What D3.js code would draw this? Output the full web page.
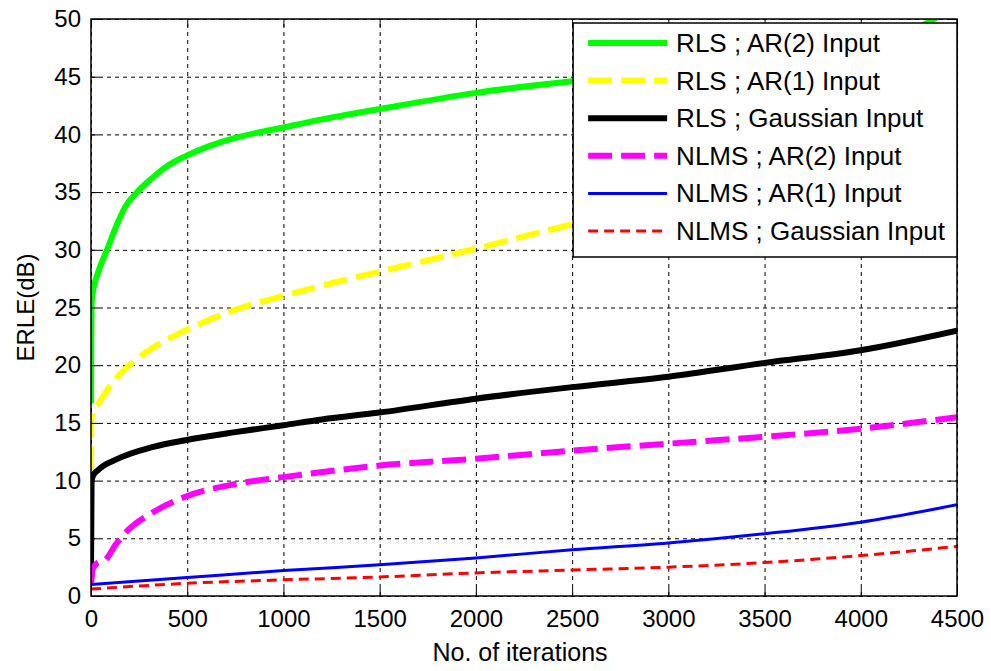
<!DOCTYPE html>
<html>
<head>
<meta charset="utf-8">
<script src="https://cdn.jsdelivr.net/npm/d3@7"></script>
<style>
  body { margin: 0; background: #fff; }
  svg { font-family: "Liberation Sans", Arial, sans-serif; }
  .grid line { stroke: #000; stroke-dasharray: 4,4; stroke-width: 1; }
  .grid path { display: none; }
  .axis path, .axis line { stroke: #000; }
  .axis text { font-size: 24px; fill: #000; }
</style>
</head>
<body>
<svg id="chart" width="991" height="671"></svg>
<script>
// series values (iterations, ERLE dB)
const rlsAr2 = [[0,16.7],[1,21],[4,25.6],[15,26.8],[36,28],[88,30.2],[130,32],[177,33.7],[240,35],[317,36.2],[400,37.3],[490,38.1],[600,38.9],[750,39.7],[1000,40.6],[1200,41.3],[1500,42.2],[2000,43.6],[2500,44.6],[3000,45.4],[3500,46.3],[4000,47.6],[4250,48.8],[4400,50.2],[4500,51.2]];
const rlsAr1 = [[0,10.9],[2,15.2],[12,16],[36,16.6],[109,18.4],[229,20.4],[350,21.8],[490,23],[750,24.8],[1000,26],[1200,26.9],[1500,28.1],[2000,30.1],[2500,32.2],[3000,34],[3500,35.8],[4000,37.6],[4500,39.5]];
const rlsGauss = [[0,2],[3,10],[10,10.4],[36,10.9],[140,11.9],[317,12.9],[490,13.5],[750,14.2],[1000,14.8],[1200,15.3],[1500,15.9],[2000,17.1],[2500,18.1],[3000,19],[3500,20.2],[4000,21.3],[4500,23]];
const nlmsAr2 = [[0,1.0],[10,2.4],[30,2.8],[73,3.1],[130,4.5],[192,5.7],[317,7.2],[490,8.6],[750,9.7],[1000,10.3],[1500,11.3],[2000,11.9],[2500,12.6],[3000,13.2],[3500,13.8],[4000,14.5],[4500,15.5]];
const nlmsAr1 = [[0,1.0],[500,1.6],[1000,2.2],[1500,2.7],[2000,3.3],[2500,4.0],[3000,4.6],[3500,5.4],[4000,6.4],[4500,7.9]];
const nlmsGauss = [[0,0.6],[500,1.1],[1000,1.4],[1500,1.65],[2000,2.0],[2500,2.25],[3000,2.5],[3500,2.9],[4000,3.5],[4500,4.3]];

const xTicks = [0,500,1000,1500,2000,2500,3000,3500,4000,4500];
const yTicks = [0,5,10,15,20,25,30,35,40,45,50];

const series = [
  { name: "RLS ; AR(2) Input", data: rlsAr2, color: "#00ff00", width: 6, dash: null },
  { name: "RLS ; AR(1) Input", data: rlsAr1, color: "#ffff00", width: 6, dash: "24,9" },
  { name: "RLS ; Gaussian Input", data: rlsGauss, color: "#000000", width: 6, dash: null },
  { name: "NLMS ; AR(2) Input", data: nlmsAr2, color: "#ff00ff", width: 6, dash: "24,9" },
  { name: "NLMS ; AR(1) Input", data: nlmsAr1, color: "#0000ff", width: 3, dash: null },
  { name: "NLMS ; Gaussian Input", data: nlmsGauss, color: "#ff0000", width: 3, dash: "10,6" }
];

const margin = { top: 19, right: 34, bottom: 75, left: 91 };
const width = 991 - margin.left - margin.right;
const height = 671 - margin.top - margin.bottom;

const svg = d3.select("#chart");
const g = svg.append("g").attr("transform", `translate(${margin.left},${margin.top})`);

const x = d3.scaleLinear().domain([0, 4500]).range([0, width]);
const y = d3.scaleLinear().domain([0, 50]).range([height, 0]);

// grid
g.append("g").attr("class", "grid")
  .attr("transform", `translate(0,${height})`)
  .call(d3.axisBottom(x).tickValues(xTicks).tickSize(-height).tickFormat(""));
g.append("g").attr("class", "grid")
  .call(d3.axisLeft(y).tickValues(yTicks).tickSize(-width).tickFormat(""));

// clip so the lines stay inside the box
g.append("clipPath").attr("id", "clip")
  .append("rect").attr("width", width).attr("height", height);

const line = d3.line()
  .x(d => x(d[0]))
  .y(d => y(d[1]))
  .curve(d3.curveMonotoneX);

const lines = g.append("g").attr("clip-path", "url(#clip)");
series.forEach(s => {
  lines.append("path")
    .datum(s.data)
    .attr("fill", "none")
    .attr("stroke", s.color)
    .attr("stroke-width", s.width)
    .attr("stroke-dasharray", s.dash)
    .attr("d", line);
});

// axes (ticks point inward, on all four sides)
g.append("g").attr("class", "axis")
  .attr("transform", `translate(0,${height})`)
  .call(d3.axisBottom(x).tickValues(xTicks).tickSize(-8).tickPadding(14).tickFormat(d3.format("d")))
  .call(a => a.select(".domain").remove());
g.append("g").attr("class", "axis")
  .call(d3.axisLeft(y).tickValues(yTicks).tickSize(-8).tickPadding(10))
  .call(a => a.select(".domain").remove());
g.append("g").attr("class", "axis")
  .call(d3.axisTop(x).tickValues(xTicks).tickSize(-8).tickFormat(""))
  .call(a => a.select(".domain").remove());
g.append("g").attr("class", "axis")
  .attr("transform", `translate(${width},0)`)
  .call(d3.axisRight(y).tickValues(yTicks).tickSize(-8).tickFormat(""))
  .call(a => a.select(".domain").remove());

g.append("rect")
  .attr("width", width).attr("height", height)
  .attr("fill", "none").attr("stroke", "#000").attr("stroke-width", 1.5);

// legend
const lg = g.append("g").attr("transform", `translate(${x(2500) + 1},4)`);
lg.append("rect")
  .attr("width", width - x(2500) - 1).attr("height", 234)
  .attr("fill", "#fff").attr("stroke", "#000").attr("stroke-width", 1.5);
series.forEach((s, i) => {
  const yy = 20 + i * 37.6;
  lg.append("line")
    .attr("x1", 15).attr("x2", 94).attr("y1", yy).attr("y2", yy)
    .attr("stroke", s.color).attr("stroke-width", s.width)
    .attr("stroke-dasharray", s.dash);
  lg.append("text")
    .attr("x", 103).attr("y", yy + 9)
    .attr("font-size", 26).attr("fill", "#000")
    .text(s.name);
});

// axis titles
svg.append("text")
  .attr("x", margin.left + width / 2 - 4).attr("y", 661)
  .attr("text-anchor", "middle").attr("font-size", 25)
  .text("No. of iterations");
svg.append("text")
  .attr("transform", `translate(34,${margin.top + height / 2}) rotate(-90)`)
  .attr("text-anchor", "middle").attr("font-size", 24)
  .text("ERLE(dB)");
</script>
</body>
</html>
